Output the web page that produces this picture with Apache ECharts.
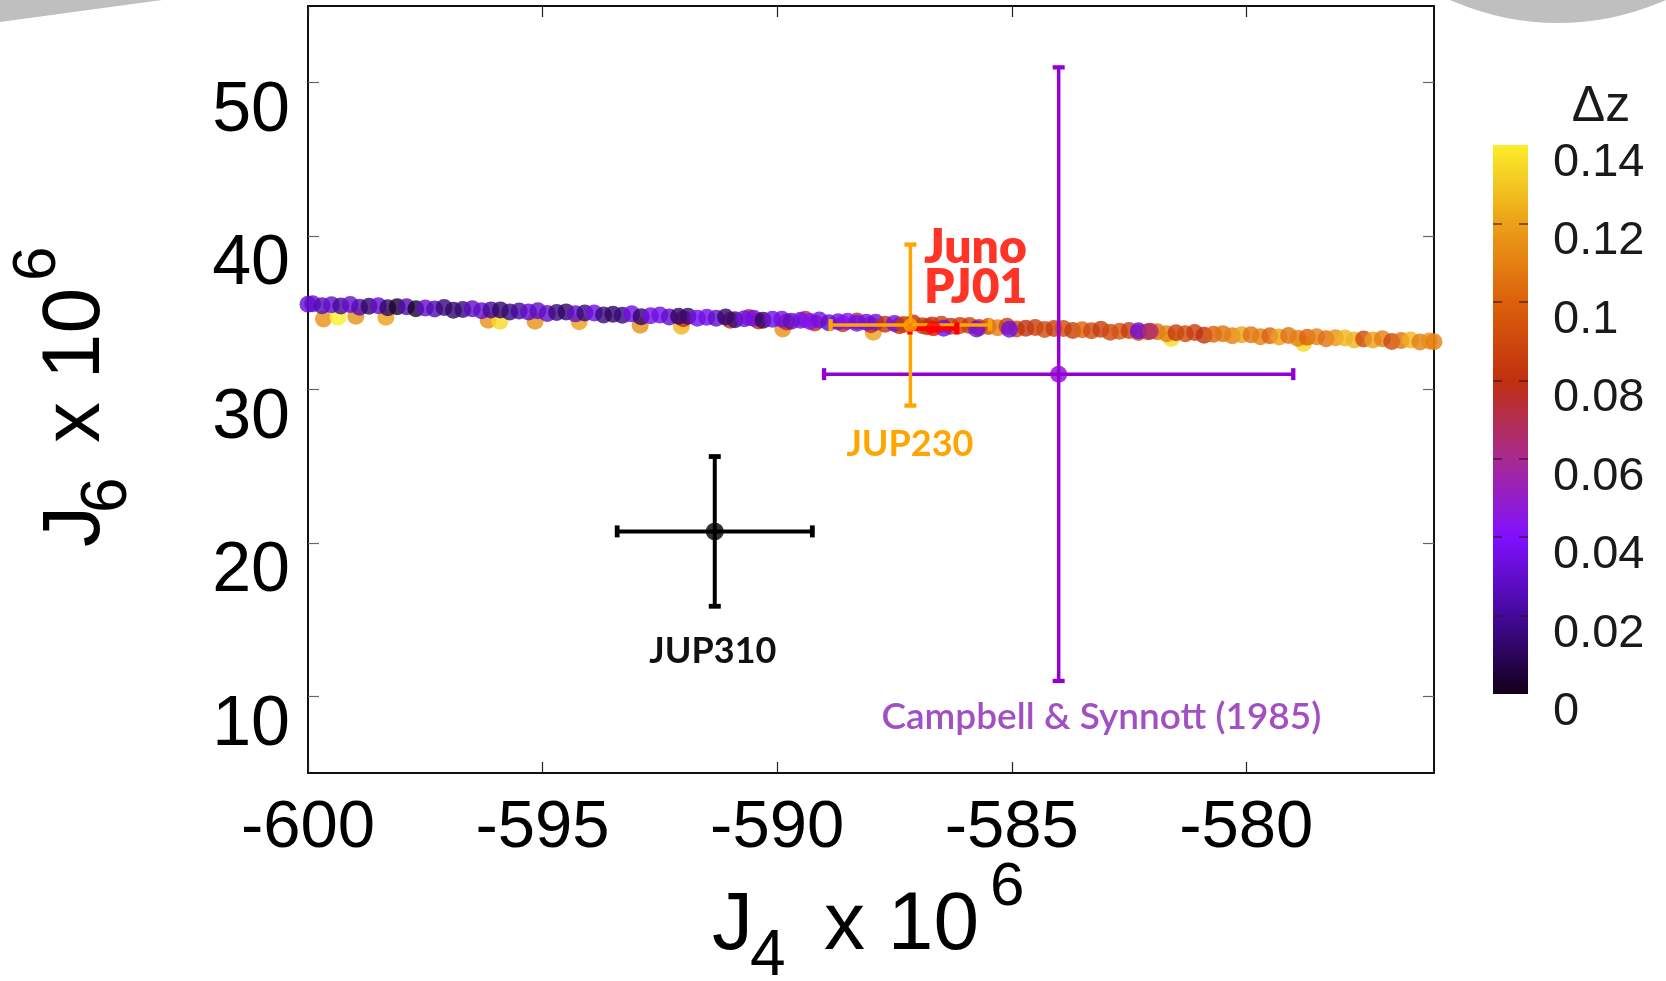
<!DOCTYPE html>
<html>
<head>
<meta charset="utf-8">
<script src="https://cdn.jsdelivr.net/npm/echarts@6/dist/echarts.min.js"></script>
<style>
  html, body { margin: 0; padding: 0; background: #ffffff; }
  #chart { width: 1666px; height: 981px; }
</style>
</head>
<body>
<div id="chart"></div>
<script>
// ---- axis ticks ----
const j4Ticks = [-600, -595, -590, -585, -580];
const j6Ticks = [10, 20, 30, 40, 50];
const dzTicks = [0, 0.02, 0.04, 0.06, 0.08, 0.1, 0.12, 0.14];

// ---- interior model samples: [J4 x 1e6, J6 x 1e6, dz] ----
// warm samples sitting just below the main band
const offsetSamples = [
  [-599.67, 34.60, 0.115], [-599.36, 34.71, 0.14], [-598.98, 34.77, 0.115], [-598.34, 34.71, 0.12],
  [-596.16, 34.52, 0.115], [-595.91, 34.45, 0.135], [-595.16, 34.45, 0.115], [-594.22, 34.41, 0.12],
  [-592.92, 34.19, 0.115], [-592.04, 34.13, 0.125], [-589.88, 33.94, 0.115], [-587.95, 33.74, 0.12],
  [-581.60, 33.32, 0.135], [-578.78, 33.00, 0.135]
];
// red samples hidden under the violet part of the band
const underSamples = [
  [-592.0, 34.62, 0.08], [-591.0, 34.52, 0.08], [-590.6, 34.70, 0.075], [-590.4, 34.46, 0.08],
  [-589.8, 34.40, 0.08], [-589.4, 34.58, 0.075], [-589.2, 34.34, 0.08], [-588.6, 34.28, 0.08],
  [-588.3, 34.47, 0.075], [-588.0, 34.22, 0.08], [-587.4, 34.15, 0.08], [-586.8, 34.09, 0.08]
];
// main band
const bandSamples = [
  [-600.0, 35.56, 0.03],
  [-599.9, 35.59, 0.03], [-599.7, 35.46, 0.025], [-599.5, 35.52, 0.03], [-599.3, 35.45, 0.02], [-599.1, 35.54, 0.03],
  [-598.9, 35.36, 0.025], [-598.7, 35.42, 0.012], [-598.5, 35.46, 0.03], [-598.3, 35.33, 0.012], [-598.1, 35.39, 0.003],
  [-597.9, 35.39, 0.025], [-597.7, 35.26, 0.003], [-597.5, 35.32, 0.03], [-597.3, 35.25, 0.025], [-597.1, 35.34, 0.015],
  [-596.9, 35.16, 0.012], [-596.7, 35.22, 0.015], [-596.5, 35.26, 0.028], [-596.3, 35.13, 0.03], [-596.1, 35.19, 0.02],
  [-595.9, 35.19, 0.012], [-595.7, 35.06, 0.015], [-595.5, 35.12, 0.02], [-595.3, 35.05, 0.03], [-595.1, 35.14, 0.028],
  [-594.9, 34.96, 0.03], [-594.7, 35.02, 0.015], [-594.5, 35.06, 0.012], [-594.3, 34.93, 0.03], [-594.1, 34.99, 0.015],
  [-593.9, 34.98, 0.035], [-593.7, 34.85, 0.015], [-593.5, 34.91, 0.012], [-593.3, 34.84, 0.015], [-593.1, 34.93, 0.035],
  [-592.9, 34.75, 0.012], [-592.7, 34.81, 0.035], [-592.5, 34.85, 0.035], [-592.3, 34.72, 0.03], [-592.1, 34.78, 0.012],
  [-591.9, 34.78, 0.015], [-591.7, 34.65, 0.035], [-591.5, 34.71, 0.035], [-591.3, 34.64, 0.03], [-591.1, 34.73, 0.012],
  [-590.9, 34.55, 0.015], [-590.7, 34.61, 0.035], [-590.5, 34.65, 0.035], [-590.3, 34.52, 0.012], [-590.1, 34.58, 0.035],
  [-589.9, 34.58, 0.035], [-589.7, 34.45, 0.03], [-589.5, 34.51, 0.035], [-589.3, 34.44, 0.04], [-589.1, 34.53, 0.035],
  [-588.9, 34.35, 0.03], [-588.7, 34.41, 0.035], [-588.5, 34.45, 0.04], [-588.3, 34.32, 0.035], [-588.1, 34.38, 0.035],
  [-587.9, 34.38, 0.035], [-587.7, 34.25, 0.08], [-587.5, 34.31, 0.035], [-587.3, 34.24, 0.085], [-587.1, 34.33, 0.08],
  [-586.9, 34.15, 0.085], [-586.7, 34.21, 0.08], [-586.5, 34.25, 0.085], [-586.3, 34.12, 0.08], [-586.1, 34.18, 0.085],
  [-585.9, 34.17, 0.085], [-585.7, 34.04, 0.08], [-585.5, 34.10, 0.09], [-585.3, 34.03, 0.11], [-585.1, 34.12, 0.085],
  [-584.9, 33.94, 0.09], [-584.7, 34.00, 0.08], [-584.5, 34.04, 0.085], [-584.3, 33.91, 0.09], [-584.1, 33.97, 0.085],
  [-583.9, 33.97, 0.09], [-583.7, 33.84, 0.085], [-583.5, 33.90, 0.1], [-583.3, 33.83, 0.09], [-583.1, 33.92, 0.085],
  [-582.9, 33.74, 0.09], [-582.7, 33.80, 0.095], [-582.5, 33.84, 0.085], [-582.3, 33.71, 0.09], [-582.1, 33.77, 0.085],
  [-581.9, 33.77, 0.105], [-581.7, 33.64, 0.11], [-581.5, 33.70, 0.085], [-581.3, 33.63, 0.09], [-581.1, 33.72, 0.085],
  [-580.9, 33.54, 0.08], [-580.7, 33.60, 0.1], [-580.5, 33.64, 0.105], [-580.3, 33.51, 0.11], [-580.1, 33.57, 0.12],
  [-579.9, 33.57, 0.105], [-579.7, 33.44, 0.11], [-579.5, 33.50, 0.1], [-579.3, 33.43, 0.12], [-579.1, 33.52, 0.105],
  [-578.9, 33.34, 0.11], [-578.7, 33.40, 0.1], [-578.5, 33.44, 0.11], [-578.3, 33.31, 0.105], [-578.1, 33.37, 0.115],
  [-577.9, 33.36, 0.125], [-577.7, 33.23, 0.125], [-577.5, 33.29, 0.09], [-577.3, 33.22, 0.12], [-577.1, 33.31, 0.11],
  [-576.9, 33.13, 0.09], [-576.7, 33.19, 0.105], [-576.5, 33.23, 0.125], [-576.3, 33.10, 0.11], [-576.1, 33.16, 0.115],
  [-576.0, 33.12, 0.11]
];
// isolated samples drawn on top of the band
const topSamples = [
  [-586.45, 34.00, 0.035], [-585.75, 33.95, 0.035], [-585.05, 33.93, 0.035],
  [-582.30, 33.83, 0.035], [-582.05, 33.80, 0.065]
];

// ---- published determinations ----
const refNames = ['Campbell & Synnott (1985)', 'JUP310', 'JUP230', 'Juno PJ01'];
const refJ4    = [-584.0, -591.33, -587.16, -586.67];
const refJ4Err = [5.0, 2.08, 1.70, 0.50];
const refJ6    = [31.0, 20.75, 34.20, 33.97];
const refJ6Err = [20.0, 4.88, 5.25, 0];

// ---- styling ----
const palette = ['#12001a', '#44099a', '#8010ff', '#a82a90', '#c0300e', '#dc600c', '#eca018', '#fbee2a'];
const axisFont = '"Liberation Sans", Arial, Helvetica, sans-serif';
const noteFont = 'Lato, "Open Sans", sans-serif';

const refStyle = {
  'Campbell & Synnott (1985)': { line: '#9400d3', width: 3.5, dot: 17 },
  'JUP310':                    { line: '#000000', width: 4,   dot: 18 },
  'JUP230':                    { line: '#ffa500', width: 3.5, dot: 14 },
  'Juno PJ01':                 { line: '#ff0000', width: 4.5, dot: 15 }
};
const refLabels = {
  'Campbell & Synnott (1985)': { text: 'Campbell & Synnott (1985)', at: [-583.09, 8.63], align: 'center', color: '#a24fc3', size: 37, weight: 600 },
  'JUP310':                    { text: 'JUP310', at: [-591.37, 12.93], align: 'center', color: '#111111', size: 36, weight: 700 },
  'JUP230':                    { text: 'JUP230', at: [-587.17, 26.41], align: 'center', color: '#ffa500', size: 36, weight: 700 },
  'Juno PJ01':                 { text: 'Juno\nPJ01', at: [-586.87, 37.95], align: 'left', color: '#ff3326', size: 48, weight: 800, lineHeight: 40 }
};

const chart = echarts.init(document.getElementById('chart'), null, { renderer: 'canvas' });

function errorBars(params, api) {
  const s = refStyle[refNames[params.dataIndex]];
  const x = api.value(0), y = api.value(1), ex = api.value(2), ey = api.value(3);
  const cap = 6;
  const st = { stroke: s.line, lineWidth: s.width };
  const cs = { stroke: s.line, lineWidth: s.width + 0.8 };
  const kids = [];
  const L = api.coord([x - ex, y]), R = api.coord([x + ex, y]);
  kids.push({ type: 'line', shape: { x1: L[0], y1: L[1], x2: R[0], y2: R[1] }, style: st });
  kids.push({ type: 'line', shape: { x1: L[0], y1: L[1] - cap, x2: L[0], y2: L[1] + cap }, style: cs });
  kids.push({ type: 'line', shape: { x1: R[0], y1: R[1] - cap, x2: R[0], y2: R[1] + cap }, style: cs });
  if (ey > 0) {
    const T = api.coord([x, y + ey]), B = api.coord([x, y - ey]);
    kids.push({ type: 'line', shape: { x1: T[0], y1: T[1], x2: B[0], y2: B[1] }, style: st });
    kids.push({ type: 'line', shape: { x1: T[0] - cap, y1: T[1], x2: T[0] + cap, y2: T[1] }, style: cs });
    kids.push({ type: 'line', shape: { x1: B[0] - cap, y1: B[1], x2: B[0] + cap, y2: B[1] }, style: cs });
  }
  return { type: 'group', children: kids };
}

function noteLabel(params, api) {
  const lab = refLabels[refNames[params.dataIndex]];
  const p = api.coord([api.value(0), api.value(1)]);
  return {
    type: 'text', x: p[0], y: p[1],
    style: {
      text: lab.text, fill: lab.color, fontFamily: noteFont, fontSize: lab.size,
      fontWeight: lab.weight, align: lab.align, verticalAlign: 'middle',
      lineHeight: lab.lineHeight || lab.size
    }
  };
}

const barGradient = new echarts.graphic.LinearGradient(0, 1, 0, 0,
  palette.map((c, i) => ({ offset: i / (palette.length - 1), color: c })));

const tickX = { show: true, inside: true, length: 11, customValues: j4Ticks, lineStyle: { color: '#222', width: 1.2 } };
const tickY = { show: true, inside: true, length: 11, customValues: j6Ticks, lineStyle: { color: '#666', width: 1.2 } };
const frame = { show: true, onZero: false, lineStyle: { color: '#111', width: 2 } };

const option = {
  backgroundColor: '#ffffff',
  animation: false,
  grid: [
    { left: 308, top: 6, width: 1126, height: 767 },
    { left: 1493, top: 145, width: 35, height: 549 }
  ],
  xAxis: [
    { type: 'value', gridIndex: 0, min: -600, max: -576, position: 'bottom',
      axisLine: frame, axisTick: tickX, splitLine: { show: false },
      axisLabel: { customValues: j4Ticks, fontFamily: axisFont, fontSize: 67, color: '#000', margin: 22 } },
    { type: 'value', gridIndex: 0, min: -600, max: -576, position: 'top',
      axisLine: frame, axisTick: tickX, splitLine: { show: false }, axisLabel: { show: false } },
    { type: 'category', gridIndex: 1, data: ['Δz'], show: false }
  ],
  yAxis: [
    { type: 'value', gridIndex: 0, min: 5, max: 55, position: 'left',
      axisLine: frame, axisTick: tickY, splitLine: { show: false },
      axisLabel: { customValues: j6Ticks, fontFamily: axisFont, fontSize: 70, color: '#000',
                   margin: 18, verticalAlign: 'top', lineHeight: 58 } },
    { type: 'value', gridIndex: 0, min: 5, max: 55, position: 'right',
      axisLine: frame, axisTick: tickY, splitLine: { show: false }, axisLabel: { show: false } },
    { type: 'value', gridIndex: 1, min: 0, max: 0.14, interval: 0.02, position: 'right', z: 10,
      axisLine: { show: false }, axisTick: { show: false },
      splitLine: { show: true, showMinLine: false, showMaxLine: false,
                   lineStyle: { color: 'rgba(50,20,20,0.55)', width: 2, type: [9, 17] } },
      axisLabel: { customValues: dzTicks, fontFamily: axisFont, fontSize: 47, color: '#1a1a1a',
                   margin: 25, verticalAlign: 'top', lineHeight: 36 } }
  ],
  visualMap: {
    type: 'continuous', show: false, min: 0, max: 0.14, dimension: 2, seriesIndex: 0,
    inRange: { color: palette }
  },
  series: [
    { name: 'models', type: 'scatter', xAxisIndex: 0, yAxisIndex: 0, symbol: 'circle', symbolSize: 17,
      clip: false, silent: true, z: 2,
      data: [].concat(offsetSamples, underSamples, bandSamples, topSamples) },
    { name: 'error bars', type: 'custom', xAxisIndex: 0, yAxisIndex: 0, z: 3, silent: true, clip: false,
      renderItem: errorBars, encode: { x: 0, y: 1 },
      data: refNames.map((n, i) => [refJ4[i], refJ6[i], refJ4Err[i], refJ6Err[i]]) },
    { name: 'determinations', type: 'scatter', xAxisIndex: 0, yAxisIndex: 0, z: 4, silent: true,
      data: refNames.map((n, i) => ({ value: [refJ4[i], refJ6[i]], symbolSize: refStyle[n].dot,
                                       itemStyle: { color: refStyle[n].line } })) },
    { name: 'notes', type: 'custom', xAxisIndex: 0, yAxisIndex: 0, z: 5, silent: true, clip: false,
      renderItem: noteLabel, encode: { x: 0, y: 1 },
      data: refNames.map(n => refLabels[n].at) },
    { name: 'colour scale', type: 'bar', xAxisIndex: 2, yAxisIndex: 2, barWidth: '100%', silent: true, z: 2,
      itemStyle: { color: barGradient }, data: [dzTicks[dzTicks.length - 1]] }
  ],
  graphic: [
    // slide decoration in the corners
    { type: 'polygon', z: -10, silent: true, shape: { points: [[0, 0], [162, 0], [0, 22]] }, style: { fill: '#bfbfbf' } },
    { type: 'circle', z: -10, silent: true, shape: { cx: 1558, cy: -242, r: 265 }, style: { fill: '#bfbfbf' } },
    // x axis title: J4 x 10^6
    { type: 'text', x: 712, y: 926, style: { text: 'J', fontFamily: axisFont, fontSize: 82, fill: '#000', align: 'left', verticalAlign: 'middle' } },
    { type: 'text', x: 750, y: 957, style: { text: '4', fontFamily: axisFont, fontSize: 64, fill: '#000', align: 'left', verticalAlign: 'middle' } },
    { type: 'text', x: 824, y: 926, style: { text: 'x 10', fontFamily: axisFont, fontSize: 82, fill: '#000', align: 'left', verticalAlign: 'middle' } },
    { type: 'text', x: 990, y: 888, style: { text: '6', fontFamily: axisFont, fontSize: 62, fill: '#000', align: 'left', verticalAlign: 'middle' } },
    // y axis title: J6 x 10^6 (reads bottom to top)
    { type: 'text', x: 76, y: 547, rotation: Math.PI / 2, style: { text: 'J', fontFamily: axisFont, fontSize: 82, fill: '#000', align: 'left', verticalAlign: 'middle' } },
    { type: 'text', x: 108, y: 513, rotation: Math.PI / 2, style: { text: '6', fontFamily: axisFont, fontSize: 64, fill: '#000', align: 'left', verticalAlign: 'middle' } },
    { type: 'text', x: 76, y: 443, rotation: Math.PI / 2, style: { text: 'x 10', fontFamily: axisFont, fontSize: 82, fill: '#000', align: 'left', verticalAlign: 'middle' } },
    { type: 'text', x: 38, y: 281, rotation: Math.PI / 2, style: { text: '6', fontFamily: axisFont, fontSize: 62, fill: '#000', align: 'left', verticalAlign: 'middle' } },
    // colour scale title
    { type: 'text', x: 1601, y: 107, style: { text: 'Δz', fontFamily: axisFont, fontSize: 50, fill: '#1a1a1a', align: 'center', verticalAlign: 'middle' } }
  ]
};

chart.setOption(option);
</script>
</body>
</html>
